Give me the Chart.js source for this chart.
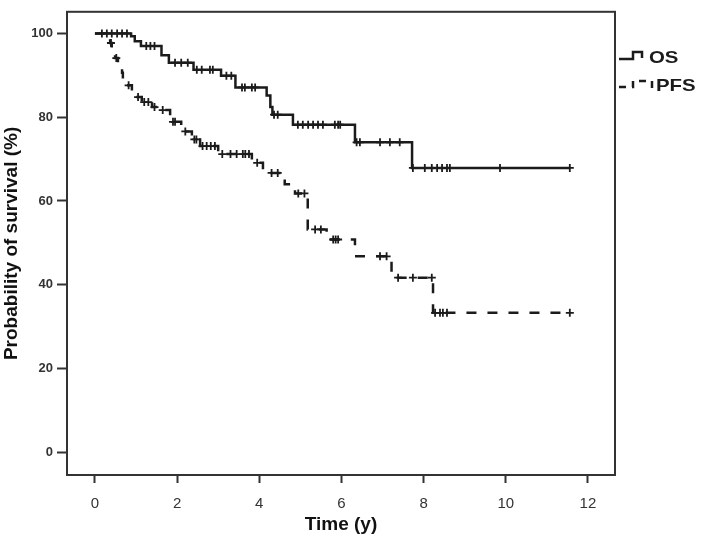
<!DOCTYPE html>
<html>
<head>
<meta charset="utf-8">
<script src="https://cdn.jsdelivr.net/npm/chart.js@4/dist/chart.umd.min.js"></script>
<style>
  body { margin: 0; background: #fff; }
  #wrap { width: 709px; height: 538px; position: relative; }
</style>
</head>
<body>
<div id="wrap"><canvas id="myChart"></canvas></div>
<script>
// tiempos de evento (años) y supervivencia (%) despues de cada evento
var osTimes = [0, 0.88, 0.97, 1.12, 1.62, 1.80, 2.40, 3.07, 3.42, 4.18, 4.27, 4.32, 4.82, 6.33, 7.72, 11.56];
var osSurv  = [100, 99.3, 98.1, 97.0, 94.8, 93.0, 91.3, 89.9, 87.1, 85.2, 82.4, 80.6, 78.2, 74.0, 67.9, 67.9];
var osCensored = [0.17, 0.29, 0.41, 0.54, 0.66, 0.78, 1.25, 1.35, 1.45, 1.95, 2.10, 2.26, 2.48, 2.60, 2.80, 2.87,
  3.20, 3.32, 3.58, 3.65, 3.82, 3.90, 4.36, 4.45, 4.94, 5.06, 5.19, 5.31, 5.43, 5.55, 5.84, 5.92, 5.97,
  6.37, 6.45, 6.94, 7.18, 7.42, 7.74, 8.03, 8.20, 8.33, 8.45, 8.57, 8.64, 9.86, 11.56];

var pfsTimes = [0, 0.24, 0.37, 0.41, 0.49, 0.56, 0.66, 0.68, 0.78, 0.90, 0.97, 1.14, 1.39, 1.58, 1.83, 2.10,
  2.36, 2.56, 3.00, 3.82, 4.09, 4.62, 4.87, 5.18, 5.64, 6.33, 7.22, 8.23, 11.56];
var pfsSurv  = [100, 98.8, 97.7, 95.3, 94.1, 91.8, 90.6, 88.8, 87.6, 85.9, 84.8, 83.6, 82.4, 81.7, 78.9, 76.6,
  74.7, 73.1, 71.2, 69.1, 66.7, 64.0, 61.8, 53.2, 50.8, 46.8, 41.7, 33.3, 33.3];
var pfsCensored = [0.39, 0.52, 0.82, 1.05, 1.20, 1.30, 1.45, 1.65, 1.90, 1.95, 2.20, 2.42, 2.47, 2.62, 2.72, 2.82, 2.92,
  3.10, 3.30, 3.45, 3.60, 3.66, 3.75, 3.95, 4.30, 4.45, 4.95, 5.10, 5.36, 5.50, 5.80, 5.86, 5.92,
  6.94, 7.10, 7.38, 7.74, 8.20, 8.28, 8.40, 8.47, 8.57, 11.56];

var xTicks = [0, 2, 4, 6, 8, 10, 12];
var yTicks = [0, 20, 40, 60, 80, 100];

// supervivencia en el tiempo t (ultimo escalon)
function survAt(times, surv, t){
  var s = surv[0];
  for (var i = 0; i < times.length; i++) {
    if (times[i] <= t) s = surv[i];
  }
  return s;
}
function steps(times, surv){
  return times.map(function(t, i){ return {x: t, y: surv[i]}; });
}
function marks(times, surv, cens){
  return cens.map(function(t){ return {x: t, y: survAt(times, surv, t)}; });
}

var ink = '#1b1b1b';
var fontFam = 'Arial, "Liberation Sans", sans-serif';

// marco completo + leyenda de la derecha
var boxLegend = {
  id: 'boxLegend',
  afterDraw: function(chart){
    var ctx = chart.ctx, a = chart.chartArea;
    ctx.save();
    ctx.strokeStyle = '#333';
    ctx.lineWidth = 2;
    ctx.strokeRect(a.left, a.top, a.right - a.left, a.bottom - a.top);

    ctx.strokeStyle = ink;
    ctx.lineWidth = 2.5;
    ctx.beginPath();
    ctx.moveTo(619, 59); ctx.lineTo(633, 59); ctx.lineTo(633, 52);
    ctx.lineTo(642, 52); ctx.lineTo(642, 58);
    ctx.stroke();

    ctx.setLineDash([7, 6]);
    ctx.beginPath();
    ctx.moveTo(619, 87); ctx.lineTo(633, 87); ctx.lineTo(633, 81);
    ctx.lineTo(652, 81); ctx.lineTo(652, 89);
    ctx.stroke();
    ctx.setLineDash([]);

    ctx.fillStyle = ink;
    ctx.font = 'bold 17px ' + fontFam;
    ctx.textBaseline = 'middle';
    ctx.translate(649, 58);
    ctx.scale(1.2, 1);
    ctx.fillText('OS', 0, 0);
    ctx.setTransform(1, 0, 0, 1, 0, 0);
    ctx.translate(656, 86.5);
    ctx.scale(1.2, 1);
    ctx.fillText('PFS', 0, 0);
    ctx.restore();
  }
};

var chartEl = document.getElementById('myChart').getContext('2d');
var kmChart = new Chart(chartEl, {
  type: 'line',
  data: {
    datasets: [
      {label: 'OS', data: steps(osTimes, osSurv), stepped: 'before', borderColor: ink, borderWidth: 2.5, pointRadius: 0, fill: false},
      {label: 'PFS', data: steps(pfsTimes, pfsSurv), stepped: 'before', borderColor: ink, borderWidth: 2.5, borderDash: [10, 11], pointRadius: 0, fill: false},
      {type: 'scatter', label: 'OS censored', data: marks(osTimes, osSurv, osCensored), pointStyle: 'cross', pointRadius: 4, borderColor: ink, borderWidth: 1.8, showLine: false},
      {type: 'scatter', label: 'PFS censored', data: marks(pfsTimes, pfsSurv, pfsCensored), pointStyle: 'cross', pointRadius: 4, borderColor: ink, borderWidth: 1.8, showLine: false}
    ]
  },
  options: {
    responsive: true,
    maintainAspectRatio: false,
    animation: false,
    layout: { padding: { top: 3, right: 94, left: 0, bottom: 0 } },
    plugins: { legend: { display: false }, tooltip: { enabled: false } },
    scales: {
      x: {
        type: 'linear',
        min: -0.68,
        max: 12.66,
        afterFit: function(scale){ scale.height = 63; },
        afterBuildTicks: function(scale){ scale.ticks = xTicks.map(function(v){ return {value: v}; }); },
        grid: { drawOnChartArea: false, drawTicks: true, tickLength: 8, tickColor: '#333', tickWidth: 2 },
        border: { display: false },
        ticks: { color: '#333', padding: 12, font: { family: fontFam, size: 15 } },
        title: { display: true, text: 'Time (y)', color: '#111', padding: { top: 4, bottom: 2 }, font: { family: fontFam, size: 19, weight: 'bold' } }
      },
      y: {
        type: 'linear',
        min: -5.4,
        max: 105.15,
        afterFit: function(scale){ scale.width = 67; },
        afterBuildTicks: function(scale){ scale.ticks = yTicks.map(function(v){ return {value: v}; }); },
        grid: { drawOnChartArea: false, drawTicks: true, tickLength: 10, tickColor: '#333', tickWidth: 2 },
        border: { display: false },
        ticks: { color: '#333', padding: 4, font: { family: fontFam, size: 13, weight: 'bold' } },
        title: { display: true, text: 'Probability of survival (%)', color: '#111', padding: { top: 0, bottom: 2 }, font: { family: fontFam, size: 19, weight: 'bold' } }
      }
    }
  },
  plugins: [boxLegend]
});
</script>
</body>
</html>
